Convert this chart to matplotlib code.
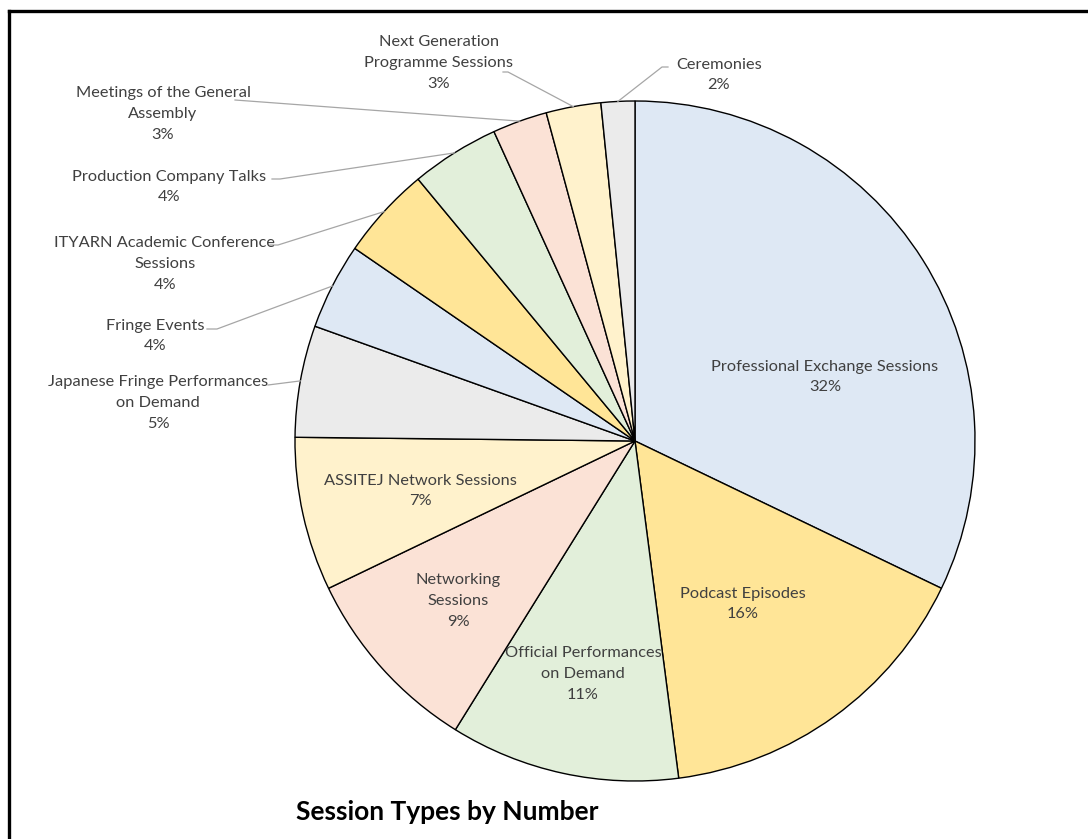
import numpy as np
import matplotlib
matplotlib.use("Agg")
import matplotlib.pyplot as plt
from matplotlib.lines import Line2D

W, H = 1088, 839

categories = [
    "Professional Exchange Sessions",
    "Podcast Episodes",
    "Official Performances\non Demand",
    "Networking\nSessions",
    "ASSITEJ Network Sessions",
    "Japanese Fringe Performances\non Demand",
    "Fringe Events",
    "ITYARN Academic Conference\nSessions",
    "Production Company Talks",
    "Meetings of the General\nAssembly",
    "Next Generation\nProgramme Sessions",
    "Ceremonies",
]
values = [32.1, 15.8, 10.9, 9.0, 7.3, 5.3, 4.1, 4.4, 4.2, 2.6, 2.6, 1.6]
colors = ["#DEE8F4", "#FFE597", "#E2EFDA", "#FBE2D6", "#FFF2CC", "#EBEBEB",
          "#DEE8F4", "#FFE597", "#E2EFDA", "#FBE2D6", "#FFF2CC", "#EBEBEB"]

# label layout (pixel coordinates of the image, y down): text block centre
label_pos = [(825, 377), (743, 604), (583, 674), (458, 601), (420, 491),
             (158, 403), (155, 336), (165, 264), (169, 187), (163, 114),
             (439, 63), (719, 75)]
# leader polylines start points for outside labels (None -> inside label)
leader_start = [None, None, None, None, None,
                [(268, 385)],
                [(207, 329), (217, 329)],
                [(270, 245), (278, 245)],
                [(272, 179), (280, 179)],
                [(235, 100)],
                [(503, 72), (508, 72)],
                [(668, 67), (662, 67)]]

center_px = (635, 441)
radius_px = 340

def P(x, y):
    return (x, H - y)

fig = plt.figure(figsize=(W / 100, H / 100), dpi=100)
ax = fig.add_axes([0, 0, 1, 1])

wedges, _ = ax.pie(values, colors=colors, startangle=90, counterclock=False,
                   center=P(*center_px), radius=radius_px,
                   wedgeprops=dict(edgecolor="black", linewidth=1.0),
                   frame=True)
ax.set_xlim(0, W)
ax.set_ylim(0, H)
ax.axis("off")

total = sum(values)
txtcol = "#404040"
for i, (w, lab) in enumerate(zip(wedges, categories)):
    pct = f"{round(values[i] / total * 100):d}%"
    x, y = label_pos[i]
    ax.text(*P(x, y), lab + "\n" + pct, ha="center", va="center", fontsize=11.8,
            family="Lato", color=txtcol, linespacing=1.62)
    if leader_start[i] is not None:
        mid = np.deg2rad((w.theta1 + w.theta2) / 2)
        cx, cy = w.center
        ex = cx + w.r * np.cos(mid)
        ey = cy + w.r * np.sin(mid)
        pts = [P(*p) for p in leader_start[i]] + [(ex, ey)]
        xs, ys = zip(*pts)
        ax.add_line(Line2D(xs, ys, color="#A6A6A6", linewidth=0.9))

ax.text(*P(447, 812), "Session Types by Number", ha="center", va="center",
        fontsize=19, fontweight="bold", family="Lato", color="black")

# frame lines (top and left)
ax.add_line(Line2D([9, W], [H - 11, H - 11], color="black", linewidth=2.4))
ax.add_line(Line2D([9, 9], [H - 11, 0], color="black", linewidth=2.4))

fig.savefig("out.png", dpi=100)
